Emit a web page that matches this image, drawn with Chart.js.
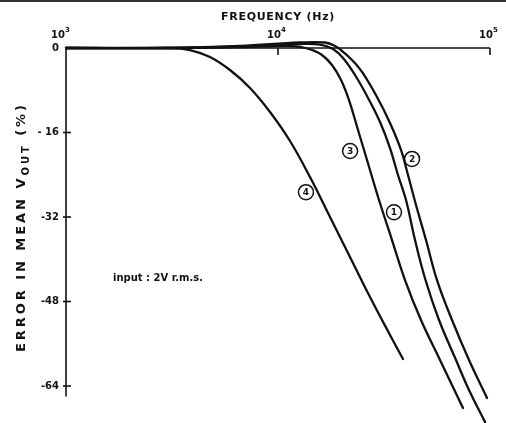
<!DOCTYPE html>
<html>
<head>
<meta charset="utf-8">
<script src="https://cdn.jsdelivr.net/npm/chart.js@4/dist/chart.umd.min.js"></script>
<style>
  html, body { margin: 0; padding: 0; background: #fff; }
  canvas { display: block; }
</style>
</head>
<body>
<canvas id="errorChart" width="506" height="423"></canvas>
<script>
// Frequency (Hz) and error in mean Vout (%) for each numbered curve
var curve1Freq = [1000, 3095, 6620, 12700, 15785, 18175, 20262, 23081, 26295, 30281, 33754, 36813, 40162, 44289, 49638, 57468, 69133, 79606, 94712];
var curve1Err  = [0, 0, 0.28, 0.76, 0.66, -0.19, -1.89, -5.11, -9.09, -14.01, -18.94, -24.05, -28.78, -36.36, -43.93, -51.50, -59.08, -64.76, -70.82];

var curve2Freq = [1000, 3095, 6620, 12700, 16667, 18575, 20042, 22341, 24903, 29310, 33754, 38038, 41043, 44771, 49899, 56234, 66206, 79606, 96787];
var curve2Err  = [0, 0, 0.38, 1.04, 1.04, 0.38, -0.57, -2.27, -4.54, -9.28, -14.20, -19.31, -24.05, -29.73, -36.36, -43.93, -51.50, -59.08, -66.27];

var curve3Freq = [1000, 3095, 6620, 10219, 12700, 14469, 16131, 17978, 19826, 21622, 23846, 26295, 29954, 34493, 39728, 47262, 58093, 74580];
var curve3Err  = [0, 0, 0.19, 0.38, 0.23, -0.38, -1.33, -3.22, -6.06, -9.85, -15.53, -21.21, -28.78, -36.36, -43.93, -51.50, -59.08, -68.17];

var curve4Freq = [1000, 3095, 3845, 4778, 5937, 7378, 9170, 11393, 14156, 17590, 21857, 27160, 33754, 38870];
var curve4Err  = [0, 0, -0.38, -1.70, -4.17, -7.57, -12.12, -17.61, -24.43, -32.0, -39.57, -47.15, -54.34, -58.89];

// Circled curve numbers, placed in data units
var curveNames = ['1', '2', '3', '4'];
var nameFreq   = [35240, 42870, 21880, 13550];
var nameErr    = [-31.1, -21.0, -19.5, -27.3];

// Axis ticks
var xTicks    = [1000, 10000, 100000];
var xTickExp  = ['3', '4', '5'];
var yTicks    = [0, -16, -32, -48, -64];
var yTickText = ['0', '- 16', '-32', '-48', '-64'];

var INK = '#111';

function toPoints(freq, err) {
    return freq.map(function (f, i) { return { x: f, y: err[i] }; });
}

function curve(freq, err) {
    return {
        data: toPoints(freq, err),
        borderColor: INK,
        borderWidth: 2.3,
        borderCapStyle: 'round',
        borderJoinStyle: 'round',
        pointRadius: 0,
        tension: 0.4,
        clip: false
    };
}

// draw a string stretched to a given width with letter spacing
function spacedText(ctx, str, x, y, width, align) {
    ctx.letterSpacing = '0px';
    var w = ctx.measureText(str).width;
    var sp = Math.max(0, (width - w) / str.length);
    ctx.letterSpacing = sp + 'px';
    ctx.textAlign = align || 'center';
    ctx.fillText(str, x, y);
    ctx.letterSpacing = '0px';
}

function line(ctx, x1, y1, x2, y2) {
    ctx.beginPath();
    ctx.moveTo(x1, y1);
    ctx.lineTo(x2, y2);
    ctx.stroke();
}

var axesPlugin = {
    id: 'plotAxes',
    beforeDatasetsDraw: function (chart) {
        var ctx = chart.ctx;
        var x = chart.scales.x, y = chart.scales.y;
        var y0 = y.getPixelForValue(0);
        var xl = x.getPixelForValue(xTicks[0]);
        var xr = x.getPixelForValue(xTicks[xTicks.length - 1]);
        ctx.save();
        ctx.fillStyle = INK;

        // border line along the top edge
        ctx.lineWidth = 2;
        ctx.strokeStyle = '#333';
        line(ctx, 0, 1, chart.width, 1);
        ctx.strokeStyle = INK;

        // axes
        ctx.lineWidth = 1.6;
        line(ctx, xl, y0, xr, y0);
        line(ctx, xl, y0, xl, y.getPixelForValue(-66));

        // x ticks point down into the plot
        xTicks.forEach(function (v, i) {
            if (i === 0) return;
            var px = x.getPixelForValue(v);
            line(ctx, px, y0, px, y0 + 7);
        });

        // y ticks cross the axis
        yTicks.forEach(function (v) {
            if (v === 0) return;
            var py = y.getPixelForValue(v);
            line(ctx, xl - 3, py, xl + 5, py);
        });

        // x tick labels: 10 with superscript exponent
        xTicks.forEach(function (v, i) {
            var px = x.getPixelForValue(v);
            var cx = i === 0 ? px - 6 : px - 2;
            ctx.font = 'bold 10px "DejaVu Sans"';
            ctx.textAlign = 'center';
            ctx.textBaseline = 'alphabetic';
            ctx.fillText('10', cx - 2, y0 - 10);
            ctx.font = 'bold 7px "DejaVu Sans"';
            ctx.textAlign = 'left';
            ctx.fillText(xTickExp[i], cx + 5, y0 - 16);
        });

        // y tick labels
        ctx.font = 'bold 10px "DejaVu Sans"';
        ctx.textAlign = 'right';
        ctx.textBaseline = 'middle';
        yTicks.forEach(function (v, i) {
            ctx.fillText(yTickText[i], xl - 7, y.getPixelForValue(v));
        });

        // axis titles
        ctx.font = 'bold 11px "DejaVu Sans"';
        ctx.textBaseline = 'middle';
        spacedText(ctx, 'FREQUENCY (Hz)', (xl + xr) / 2, 17, 114);

        // rotated y title with subscript OUT, spread over a fixed length
        ctx.save();
        ctx.translate(22, 227);
        ctx.rotate(-Math.PI / 2);
        ctx.textAlign = 'left';
        ctx.textBaseline = 'middle';
        var parts = [
            { t: 'ERROR IN MEAN V', f: 'bold 13px "DejaVu Sans"', dy: 0 },
            { t: 'OUT', f: 'bold 10px "DejaVu Sans"', dy: 4 },
            { t: ' (%)', f: 'bold 13px "DejaVu Sans"', dy: 0 }
        ];
        var natural = 0, count = 0;
        parts.forEach(function (p) {
            ctx.font = p.f;
            ctx.letterSpacing = '0px';
            natural += ctx.measureText(p.t).width;
            count += p.t.length;
        });
        var sp = Math.max(0, (250 - natural) / count);
        var total = 0;
        parts.forEach(function (p) {
            ctx.font = p.f;
            ctx.letterSpacing = sp + 'px';
            p.w = ctx.measureText(p.t).width;
            total += p.w;
        });
        var cx = -total / 2;
        parts.forEach(function (p) {
            ctx.font = p.f;
            ctx.letterSpacing = sp + 'px';
            ctx.fillText(p.t, cx, p.dy);
            cx += p.w;
        });
        ctx.letterSpacing = '0px';
        ctx.restore();

        // note on the input level
        ctx.font = 'bold 10px "DejaVu Sans"';
        ctx.textBaseline = 'middle';
        spacedText(ctx, 'input : 2V r.m.s.', 113, 278, 90, 'left');

        ctx.restore();
    },
    afterDatasetsDraw: function (chart) {
        var ctx = chart.ctx;
        var x = chart.scales.x, y = chart.scales.y;
        ctx.save();
        ctx.strokeStyle = INK;
        ctx.fillStyle = INK;
        ctx.lineWidth = 1.5;
        ctx.font = 'bold 9px "DejaVu Sans"';
        ctx.textAlign = 'center';
        ctx.textBaseline = 'middle';
        curveNames.forEach(function (n, i) {
            var px = x.getPixelForValue(nameFreq[i]);
            var py = y.getPixelForValue(nameErr[i]);
            ctx.beginPath();
            ctx.arc(px, py, 7.5, 0, Math.PI * 2);
            ctx.stroke();
            ctx.fillText(n, px, py + 0.5);
        });
        ctx.restore();
    }
};

var ctx = document.getElementById('errorChart').getContext('2d');

var errorChart = new Chart(ctx, {
    type: 'line',
    data: {
        datasets: [
            curve(curve1Freq, curve1Err),
            curve(curve2Freq, curve2Err),
            curve(curve3Freq, curve3Err),
            curve(curve4Freq, curve4Err)
        ]
    },
    options: {
        responsive: false,
        animation: false,
        layout: { padding: { left: 66, top: 48, right: 16, bottom: 0 } },
        plugins: {
            legend: { display: false },
            tooltip: { enabled: false }
        },
        scales: {
            x: { type: 'logarithmic', min: 1000, max: 100000, display: false },
            y: { type: 'linear', min: -71, max: 0, display: false }
        }
    },
    plugins: [axesPlugin]
});
</script>
</body>
</html>
